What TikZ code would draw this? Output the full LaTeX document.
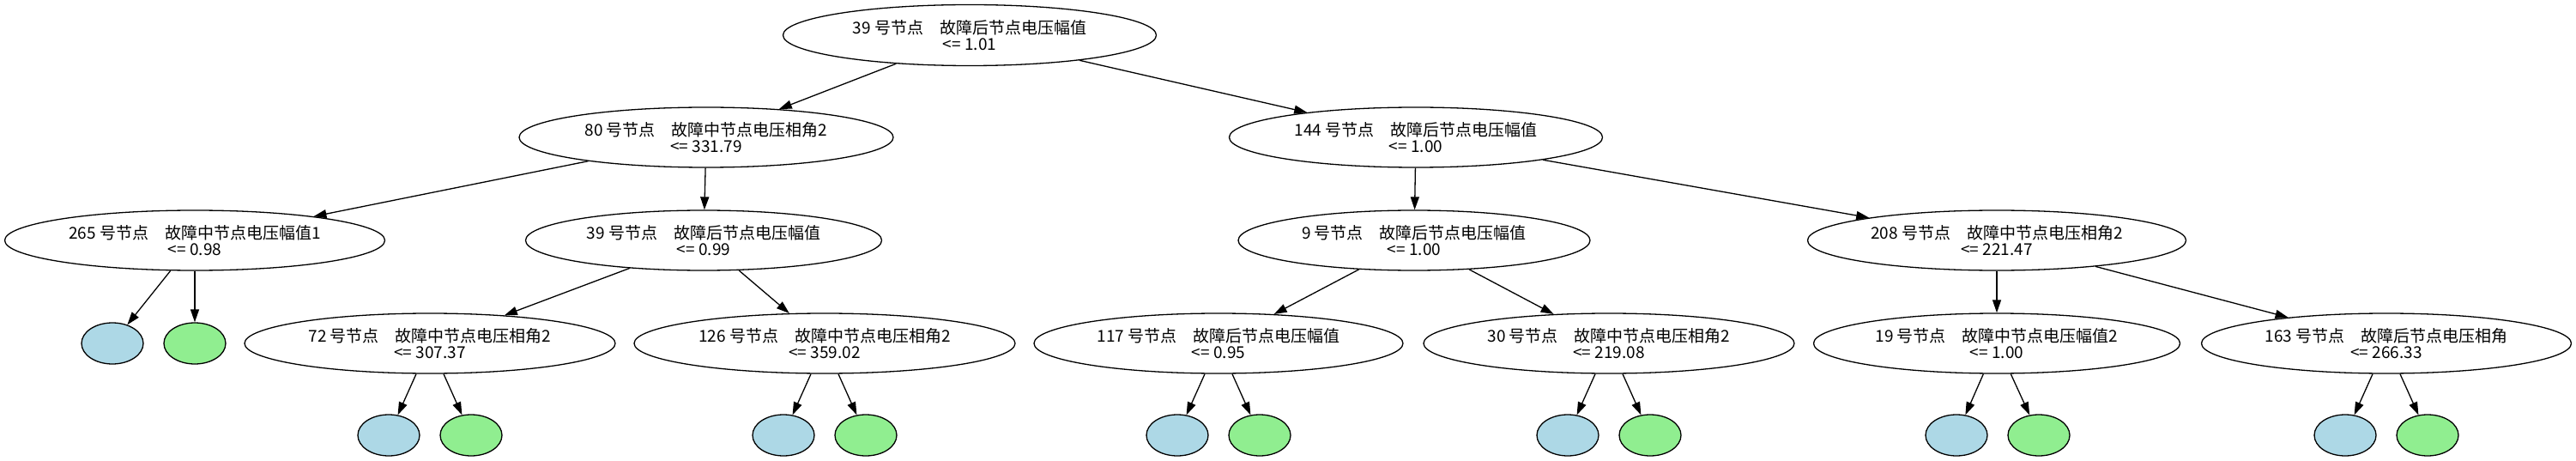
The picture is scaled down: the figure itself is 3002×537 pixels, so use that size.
\documentclass[tikz,border=0pt]{standalone}
\usepackage{fontspec}
\setmainfont{Noto Sans CJK SC}
\usetikzlibrary{arrows.meta,shapes.geometric}
\definecolor{leafblue}{HTML}{ADD8E6}
\definecolor{leafgreen}{HTML}{90EE90}
\begin{document}
\begin{tikzpicture}[x=1pt,y=-1pt,
  dec/.style={draw, ellipse, line width=1.3pt, inner sep=0pt, align=center,
    font=\fontsize{19}{19}\selectfont, minimum height=70pt},
  leafb/.style={draw, ellipse, line width=1.3pt, fill=leafblue, inner sep=0pt,
    minimum width=72pt, minimum height=48pt},
  leafg/.style={leafb, fill=leafgreen},
  conn/.style={-{Triangle[length=15pt,width=10pt]}, line width=1.3pt}]
\useasboundingbox (0,0) rectangle (3002,537);
% decision nodes
\node[dec, minimum width=435pt, minimum height=71pt] (root) at (1130,41) {39 号节点　故障后节点电压幅值\\<= 1.01};
\node[dec, minimum width=436pt] (n80) at (823,160) {80 号节点　故障中节点电压相角2\\<= 331.79};
\node[dec, minimum width=435pt] (n144) at (1650,160) {144 号节点　故障后节点电压幅值\\<= 1.00};
\node[dec, minimum width=443pt] (n265) at (227,280) {265 号节点　故障中节点电压幅值1\\<= 0.98};
\node[dec, minimum width=415pt] (n39) at (820,280) {39 号节点　故障后节点电压幅值\\<= 0.99};
\node[dec, minimum width=410pt] (n9) at (1648,280) {9 号节点　故障后节点电压幅值\\<= 1.00};
\node[dec, minimum width=441pt] (n208) at (2327,280) {208 号节点　故障中节点电压相角2\\<= 221.47};
\node[dec, minimum width=432pt] (n72) at (501,400) {72 号节点　故障中节点电压相角2\\<= 307.37};
\node[dec, minimum width=444pt] (n126) at (961,400) {126 号节点　故障中节点电压相角2\\<= 359.02};
\node[dec, minimum width=430pt] (n117) at (1420,400) {117 号节点　故障后节点电压幅值\\<= 0.95};
\node[dec, minimum width=432pt] (n30) at (1875,400) {30 号节点　故障中节点电压相角2\\<= 219.08};
\node[dec, minimum width=427pt] (n19) at (2327,400) {19 号节点　故障中节点电压幅值2\\<= 1.00};
\node[dec, minimum width=431pt] (n163) at (2781,400) {163 号节点　故障后节点电压相角\\<= 266.33};
% leaves
\node[leafb] (l265a) at (131,400) {};
\node[leafg] (l265b) at (227,400) {};
\node[leafb] (l72a) at (453,507) {};
\node[leafg] (l72b) at (549,507) {};
\node[leafb] (l126a) at (913,507) {};
\node[leafg] (l126b) at (1009,507) {};
\node[leafb] (l117a) at (1372,507) {};
\node[leafg] (l117b) at (1468,507) {};
\node[leafb] (l30a) at (1827,507) {};
\node[leafg] (l30b) at (1923,507) {};
\node[leafb] (l19a) at (2280,507) {};
\node[leafg] (l19b) at (2376,507) {};
\node[leafb] (l163a) at (2733,507) {};
\node[leafg] (l163b) at (2829,507) {};
% connectors
\draw[conn] (root) -- (n80);
\draw[conn] (root) -- (n144);
\draw[conn] (n80) -- (n265);
\draw[conn] (n80) -- (n39);
\draw[conn] (n144) -- (n9);
\draw[conn] (n144) -- (n208);
\draw[conn] (n265) -- (l265a);
\draw[conn] (n265) -- (l265b);
\draw[conn] (n39) -- (n72);
\draw[conn] (n39) -- (n126);
\draw[conn] (n9) -- (n117);
\draw[conn] (n9) -- (n30);
\draw[conn] (n208) -- (n19);
\draw[conn] (n208) -- (n163);
\draw[conn] (n72) -- (l72a);
\draw[conn] (n72) -- (l72b);
\draw[conn] (n126) -- (l126a);
\draw[conn] (n126) -- (l126b);
\draw[conn] (n117) -- (l117a);
\draw[conn] (n117) -- (l117b);
\draw[conn] (n30) -- (l30a);
\draw[conn] (n30) -- (l30b);
\draw[conn] (n19) -- (l19a);
\draw[conn] (n19) -- (l19b);
\draw[conn] (n163) -- (l163a);
\draw[conn] (n163) -- (l163b);
\end{tikzpicture}
\end{document}
